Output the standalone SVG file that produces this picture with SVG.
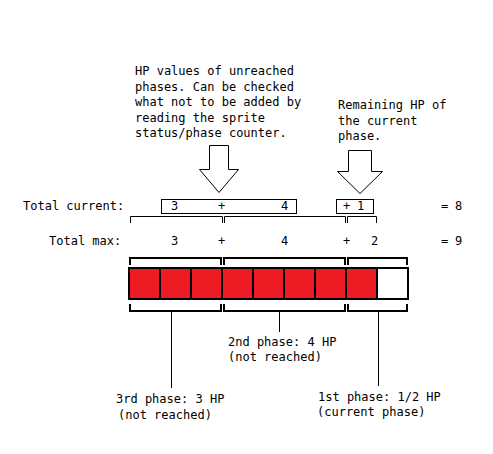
<svg xmlns="http://www.w3.org/2000/svg" width="493" height="454" viewBox="0 0 493 454">
<style>
text{font-family:"DejaVu Sans Mono","Liberation Mono",monospace;font-size:12px;fill:#000}
.t{fill:none;stroke:#000;stroke-width:1}
.b{fill:none;stroke:#000;stroke-width:2}
.cell{fill:#ED1C24;stroke:#000;stroke-width:2}
.empty{fill:#fff;stroke:#000;stroke-width:2}
.arrow{fill:#fff;stroke:#000;stroke-width:1;stroke-linejoin:miter}
</style>
<rect width="493" height="454" fill="#fff"/>
<g id="note-unreached">
<text x="135" y="75">HP values of unreached</text>
<text x="135" y="90.5">phases. Can be checked</text>
<text x="135" y="106">what not to be added by</text>
<text x="135" y="121.5">reading the sprite</text>
<text x="135" y="137">status/phase counter.</text>
</g>
<g id="note-remaining">
<text x="338" y="109">Remaining HP of</text>
<text x="338" y="124.5">the current</text>
<text x="338" y="140">phase.</text>
</g>
<g id="arrow-unreached">
<polygon class="arrow" points="209.5,145.5 228.5,145.5 228.5,169.5 238.5,169.5 219,192.5 199.5,169.5 209.5,169.5"/>
</g>
<g id="arrow-remaining">
<polygon class="arrow" points="348.5,150.5 371.5,150.5 371.5,171.5 382.5,171.5 360,193.5 337.5,171.5 348.5,171.5"/>
</g>
<g id="row-current">
<text x="23" y="210">Total current:</text>
<rect class="t" x="161.5" y="199.5" width="135" height="14"/>
<text x="171" y="210">3</text>
<text x="218" y="210">+</text>
<text x="281" y="210">4</text>
<rect class="t" x="336.5" y="199.5" width="37" height="14"/>
<text x="343" y="210">+</text>
<text x="357" y="210">1</text>
<text x="441" y="210">=</text>
<text x="455" y="210">8</text>
</g>
<g id="row-max">
<text x="49" y="245">Total max:</text>
<text x="171" y="245">3</text>
<text x="218" y="245">+</text>
<text x="281" y="245">4</text>
<text x="343" y="245">+</text>
<text x="371" y="245">2</text>
<text x="441" y="245">=</text>
<text x="455" y="245">9</text>
</g>
<g id="bar">
<rect class="cell" x="129" y="268" width="31" height="31"/>
<rect class="cell" x="160" y="268" width="31" height="31"/>
<rect class="cell" x="191" y="268" width="31" height="31"/>
<rect class="cell" x="222" y="268" width="31" height="31"/>
<rect class="cell" x="253" y="268" width="31" height="31"/>
<rect class="cell" x="284" y="268" width="31" height="31"/>
<rect class="cell" x="315" y="268" width="31" height="31"/>
<rect class="cell" x="346" y="268" width="31" height="31"/>
<rect class="empty" x="377" y="268" width="31" height="31"/>
</g>
<g id="connectors">
<path class="t" d="M130.5,223 V216.5 H222.5 V223 M224.5,223 V216.5 H345.5 V223 M347.5,223 V216.5 H376.5 V223"/>
<path class="b" d="M130,265 V258 H221 V265 M224,265 V258 H345 V265 M348,265 V258 H407 V265"/>
<path class="b" d="M130,304 V311 H221 V304 M224,304 V311 H345 V304 M348,304 V311 H407 V304"/>
<path class="t" d="M171.5,311 V388 M279.5,311 V332 M378.5,311 V386"/>
</g>
<g id="label-2nd">
<text x="228" y="346">2nd phase: 4 HP</text>
<text x="228" y="361">(not reached)</text>
</g>
<g id="label-3rd">
<text x="116" y="403">3rd phase: 3 HP</text>
<text x="118" y="419">(not reached)</text>
</g>
<g id="label-1st">
<text x="318" y="401">1st phase: 1/2 HP</text>
<text x="317" y="415.5">(current phase)</text>
</g>
</svg>
